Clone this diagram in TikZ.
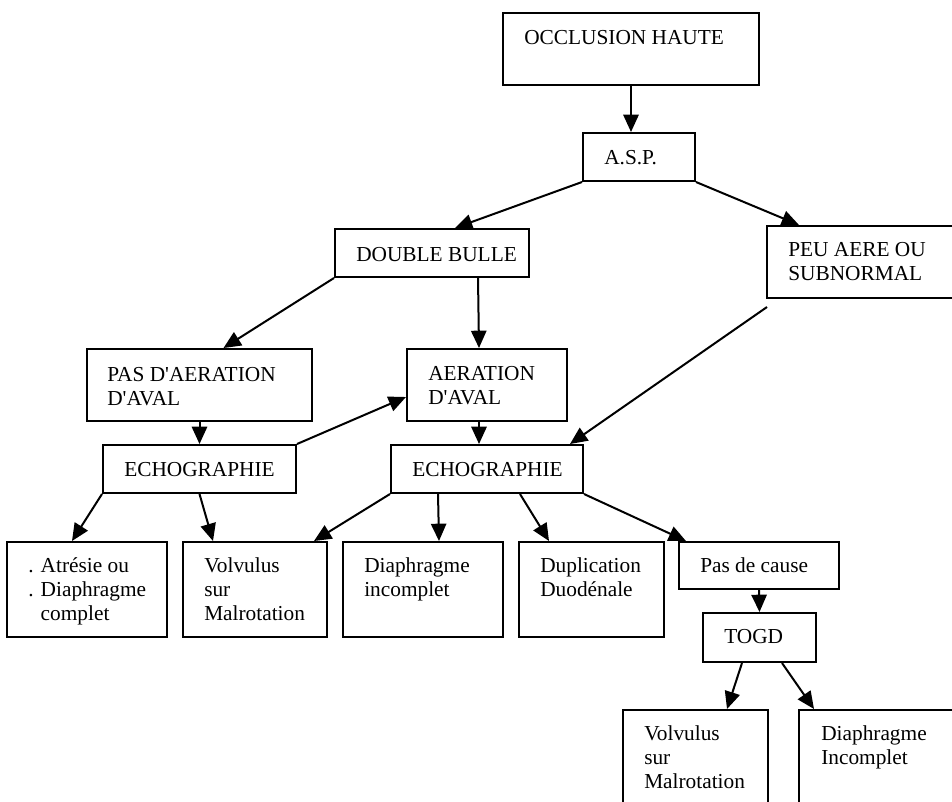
\documentclass[tikz,border=0pt]{standalone}
\usepackage{fontspec}
\setmainfont{Liberation Serif}
\usetikzlibrary{arrows.meta, calc, fit}
\newcommand{\ap}{\textquotesingle}

\begin{document}
\begin{tikzpicture}[x=0.75pt, y=-0.75pt,
    box/.style={draw, line width=1.5pt, inner sep=0pt},
    txt/.style={anchor=base west, inner sep=0pt, align=left, font=\fontsize{16}{18}\selectfont},
    arr/.style={line width=1.5pt, -{Triangle[length=13pt, width=11.5pt]}}]
        \useasboundingbox (0,0) rectangle (952,801);
        \node[box, fit={(503,13) (759,85)}] (occl) {};
        \node[box, fit={(583,133) (695,181)}] (asp) {};
        \node[box, fit={(335,229) (529,277)}] (db) {};
        \node[box, fit={(767,226) (960,298)}] (peu) {};
        \node[box, fit={(87,349) (312,421)}] (pasa) {};
        \node[box, fit={(407,349) (567,421)}] (aer) {};
        \node[box, fit={(103,445) (296,493)}] (echoa) {};
        \node[box, fit={(391,445) (583,493)}] (echob) {};
        \node[box, fit={(7,542) (167,637)}] (atr) {};
        \node[box, fit={(183,542) (327,637)}] (volva) {};
        \node[box, fit={(343,542) (503,637)}] (diapha) {};
        \node[box, fit={(519,542) (664,637)}] (dupl) {};
        \node[box, fit={(679,542) (839,589)}] (pdc) {};
        \node[box, fit={(703,613) (816,662)}] (togd) {};
        \node[box, fit={(623,710) (768,810)}] (volvb) {};
        \node[box, fit={(799,710) (960,810)}] (diaphb) {};

        \node[txt] (t-occl) at (524,44) {OCCLUSION HAUTE};
        \node[txt] (t-asp) at (604,164) {A.S.P.};
        \node[txt] (t-db) at (356,261) {DOUBLE BULLE};
        \node[txt] (t-peu) at (788,280) {PEU AERE OU\\SUBNORMAL};
        \node[txt] (t-pasa) at (107,405) {PAS D\ap AERATION\\D\ap AVAL};
        \node[txt] (t-aer) at (428,404) {AERATION\\D\ap AVAL};
        \node[txt] (t-echoa) at (124,476) {ECHOGRAPHIE};
        \node[txt] (t-echob) at (412,476) {ECHOGRAPHIE};
        \node[txt] (t-atr) at (28,620) {. Atrésie ou\\. Diaphragme\\\phantom{. }complet};
        \node[txt] (t-volva) at (204,620) {Volvulus\\sur\\Malrotation};
        \node[txt] (t-diapha) at (364,596) {Diaphragme\\incomplet};
        \node[txt] (t-dupl) at (540,596) {Duplication\\Duodénale};
        \node[txt] (t-pdc) at (700,572) {Pas de cause};
        \node[txt] (t-togd) at (724,643) {TOGD};
        \node[txt] (t-volvb) at (644,788) {Volvulus\\sur\\Malrotation};
        \node[txt] (t-diaphb) at (821,764) {Diaphragme\\Incomplet};

        \foreach \from/\to in
        {pasa.south/echoa.north, pdc.south/togd.north} \draw[arr] (\from) -- (\to);
        \draw[arr] (occl.south) -- (occl.south |- asp.north);
        \draw[arr] (asp.south west) -- ($(db.north)+(23,0)$);
        \draw[arr] (asp.south east) -- ($(peu.north west)+(33,0)$);
        \draw[arr] (db.south west) -- ($(pasa.north)+(24,0)$);
        \draw[arr] ($(db.south west)+(144,0)$) -- ($(aer.north)+(-8,0)$);
        \draw[arr] ($(aer.south)+(-8,0)$) -- ($(echob.north)+(-8,0)$);
        \draw[arr] (echoa.north east) -- ($(aer.west)+(0,12)$);
        \draw[arr] ($(peu.south west)+(1,8)$) -- ($(echob.north east)+(-14,0)$);
        \draw[arr] (echoa.south west) -- ($(atr.north)+(-15,0)$);
        \draw[arr] (echoa.south) -- ($(volva.north)+(-42,0)$);
        \draw[arr] (echob.south west) -- ($(volva.north east)+(-14,0)$);
        \draw[arr] ($(echob.south west)+(48,0)$) -- ($(diapha.north)+(16,0)$);
        \draw[arr] ($(echob.south)+(33,0)$) -- ($(dupl.north west)+(31,0)$);
        \draw[arr] (echob.south east) -- ($(pdc.north west)+(8,0)$);
        \draw[arr] ($(togd.south west)+(40,0)$) -- ($(volvb.north west)+(105,0)$);
        \draw[arr] ($(togd.south west)+(80,0)$) -- ($(diaphb.north west)+(16,0)$);
\end{tikzpicture}
\end{document}
